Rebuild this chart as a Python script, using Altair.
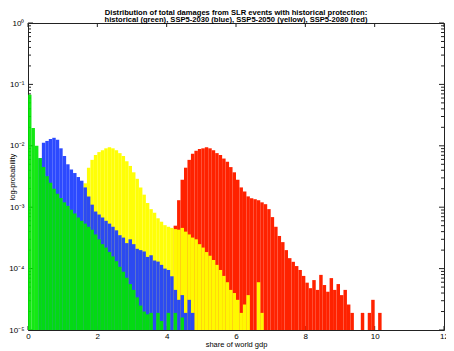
import altair as alt
import pandas as pd

BIN = 0.1

# histogram probabilities (bin width 0.1)
green_start = 0.0
green_p = [0.068, 0.0195, 0.010, 0.0063, 0.0045, 0.0032, 0.0025, 0.0020, 0.00166, 0.00141,
           0.0012, 0.00105, 0.00091, 0.00079, 0.00068, 0.0006, 0.00054, 0.00048, 0.00043, 0.00036,
           0.0003, 0.00025, 0.00022, 0.000186, 0.000158, 0.000132, 0.000107, 0.000089, 0.000071, 0.000056,
           0.000045, 0.000034, 0.000025, 0.00002, 0.000018, 0.000019, None, 0.000019, 0.000014, None,
           0.000019, None, 0.000019, None, 0.000016]

blue_start = 0.3
blue_p = [0.0063, 0.0112, 0.012, 0.0129, 0.0135, 0.0126, 0.0091, 0.0068, 0.005, 0.0041,
          0.0036, 0.0031, 0.0027, 0.0021, 0.0015, 0.0011, 0.00085, 0.00076, 0.00068, 0.0006,
          0.00054, 0.00048, 0.00042, 0.00035, 0.00032, 0.00026, 0.0003, 0.00025, 0.00021, 0.0002,
          0.00019, 0.000155, 0.000165, 0.000135, 0.00013, 0.000115, 0.0001, 0.000095, 0.000075, 0.000045,
          0.000031, 0.000037, 0.000019, 0.000031, 0.000019]

yellow_start = 1.6
yellow_p = [0.00245, 0.0044, 0.0059, 0.0071, 0.0079, 0.0085, 0.0091, 0.0095, 0.0091, 0.0085,
            0.0076, 0.0068, 0.0056, 0.0047, 0.0037, 0.0029, 0.0021, 0.0016, 0.00117, 0.00093,
            0.00081, 0.00066, 0.00058, 0.00051, 0.00048, 0.00046, 0.00044, 0.00043, 0.00046, 0.0004,
            0.00036, 0.00032, 0.0003, 0.00025, 0.00022, 0.000186, 0.000162, 0.000138, 0.000115, 0.000095,
            0.000076, 0.00006, 0.000045, 0.00004, 0.000031, 0.000019, 0.000026, 0.000037, None, None,
            0.00006, 0.000019]

red_start = 4.2
red_p = [0.0005, 0.0013, 0.0028, 0.0044, 0.0059, 0.0074, 0.0083, 0.0089, 0.0091, 0.0095,
         0.0091, 0.0085, 0.0076, 0.0071, 0.0062, 0.0055, 0.0045, 0.0037, 0.0028, 0.0021,
         0.0018, 0.0015, 0.0014, 0.00135, 0.0013, 0.0012, 0.00112, 0.00093, 0.00069, 0.00048,
         0.00034, 0.00027, 0.0002, 0.000148, 0.000129, 0.00011, 0.000095, 0.000076, 0.000059, 0.000048,
         0.000065, 0.000045, 0.000079, 0.000054, 0.000042, 0.00007, 0.000045, 0.000056, 0.000037, 0.000045,
         0.000026, 0.000019, None, None, 0.000019, None, 0.000019, 0.000031, None, 0.000019]

series_names = ["SSP5-2080", "SSP5-2050", "SSP5-2030", "historical"]
series_colors = ["#ff2200", "#ffff00", "#2040ff", "#00e600"]
series_opacity = [1.0, 0.92, 0.9, 0.95]

x_ticks = [0, 2, 4, 6, 8, 10, 12]
y_ticks = [1, 0.1, 0.01, 0.001, 0.0001, 0.00001]
y_minor = [m * 10.0 ** e for e in range(-5, 0) for m in range(2, 10)]

title_lines = ["Distribution of total damages from SLR events with historical protection:",
               "historical (green), SSP5-2030 (blue), SSP5-2050 (yellow), SSP5-2080 (red)"]

rows = []
for name, start, vals in [("SSP5-2080", red_start, red_p), ("SSP5-2050", yellow_start, yellow_p),
                          ("SSP5-2030", blue_start, blue_p), ("historical", green_start, green_p)]:
    for i, v in enumerate(vals):
        if v is None:
            continue
        x0 = round(start + i * BIN, 3)
        rows.append({"series": name, "x0": x0, "x1": round(x0 + BIN, 3), "p": v})
df = pd.DataFrame(rows)

W, H = 416, 307
FONT = "Liberation Sans"
xsc = alt.Scale(domain=[0, 12], nice=False, zero=False)
ysc = alt.Scale(type="log", domain=[1e-5, 1], nice=False)
xaxis = alt.Axis(values=x_ticks, ticks=False, domain=False, grid=False, labelPadding=2,
                 title="share of world gdp", titlePadding=0, labelFlush=False, titleFontSize=7.5)
yaxis = alt.Axis(values=y_ticks, ticks=False, domain=False, grid=False, labelPadding=4,
                 title="log-probability", titleX=-16, titleY=H / 2, titleBaseline="middle",
                 titleAngle=270, titleAlign="center", titleFontSize=7.5,
                 labelExpr="'10' + ['⁰','⁻¹','⁻²','⁻³','⁻⁴','⁻⁵'][round(-log(datum.value)/LN10)]")

xt = pd.DataFrame({"xt": x_ticks})
ytm = pd.DataFrame({"yt": y_ticks})
ytn = pd.DataFrame({"yt": y_minor})

tick_style = dict(color="#222222", strokeWidth=1)
xb = alt.Chart(xt).mark_rule(**tick_style).encode(
    x=alt.X("xt:Q", scale=xsc, axis=xaxis), y=alt.value(H), y2=alt.value(H - 4))
xtop = alt.Chart(xt).mark_rule(**tick_style).encode(
    x=alt.X("xt:Q", scale=xsc, axis=xaxis), y=alt.value(0), y2=alt.value(4))
yl = alt.Chart(ytm).mark_rule(**tick_style).encode(
    y=alt.Y("yt:Q", scale=ysc, axis=yaxis), x=alt.value(0), x2=alt.value(5))
yr = alt.Chart(ytm).mark_rule(**tick_style).encode(
    y=alt.Y("yt:Q", scale=ysc, axis=yaxis), x=alt.value(W - 5), x2=alt.value(W))
yln = alt.Chart(ytn).mark_rule(**tick_style).encode(
    y=alt.Y("yt:Q", scale=ysc, axis=yaxis), x=alt.value(0), x2=alt.value(3))
yrn = alt.Chart(ytn).mark_rule(**tick_style).encode(
    y=alt.Y("yt:Q", scale=ysc, axis=yaxis), x=alt.value(W - 3), x2=alt.value(W))

bars = alt.Chart(df).mark_rect(strokeWidth=0).encode(
    x=alt.X("x0:Q", scale=xsc, axis=xaxis),
    x2="x1:Q",
    y=alt.Y("p:Q", scale=ysc, axis=yaxis),
    y2=alt.datum(1e-5),
    color=alt.Color("series:N", scale=alt.Scale(domain=series_names, range=series_colors), legend=None),
    opacity=alt.Opacity("series:N", scale=alt.Scale(domain=series_names, range=series_opacity), legend=None),
)

chart = alt.layer(xb, xtop, yl, yr, yln, yrn, bars).properties(
    width=W, height=H,
    autosize=alt.AutoSizeParams(type="none"),
    padding={"left": 20, "top": 15, "right": 2, "bottom": 21},
    title=alt.TitleParams(text=title_lines, fontSize=7.6, fontWeight="bold", font=FONT,
                          anchor="middle", offset=1, dy=6, lineHeight=7.8, color="black"),
).configure_view(stroke="#222222", strokeWidth=1).configure_axis(
    labelFont=FONT, titleFont=FONT, labelFontSize=8, titleFontSize=8,
    labelColor="black", titleColor="black", titleFontWeight="normal"
)

chart.save("out.html", embed_options={"renderer": "svg", "actions": False})
